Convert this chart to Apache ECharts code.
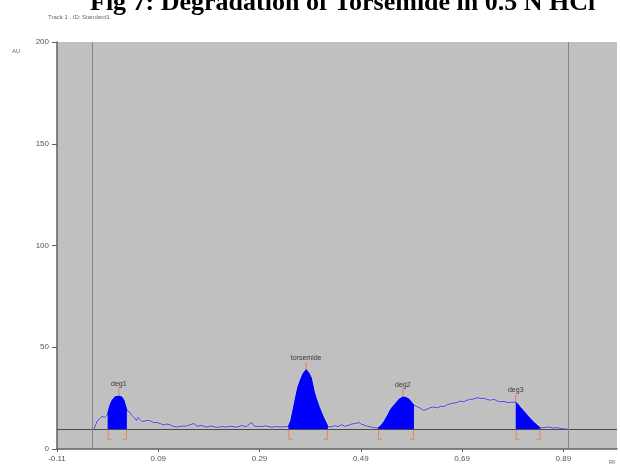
<!DOCTYPE html>
<html>
<head>
<meta charset="utf-8">
<script src="https://cdn.jsdelivr.net/npm/echarts@6/dist/echarts.min.js"></script>
<style>
  html, body { margin: 0; padding: 0; background: #fff; }
  #chart { width: 620px; height: 468px; }
</style>
</head>
<body>
<div id="chart"></div>
<script>
// densitogram trace (Rf, AU)
var rfValues = [-0.037,-0.031,-0.026,-0.021,-0.016,-0.010,-0.006,-0.002,0.004,0.012,0.018,0.022,0.028,
  0.034,0.038,0.042,0.047,0.050,0.053,0.058,0.061,0.067,0.073,0.080,0.087,0.094,0.101,0.106,0.112,0.119,
  0.126,0.135,0.146,0.153,0.160,0.167,0.175,0.185,0.195,0.205,0.215,0.225,0.234,0.244,0.254,0.264,0.274,
  0.280,0.294,0.303,0.313,0.323,0.333,0.342,0.347,0.352,0.357,0.362,0.366,0.371,0.376,0.382,0.387,0.392,
  0.398,0.403,0.408,0.412,0.416,0.421,0.425,0.431,0.438,0.445,0.452,0.458,0.465,0.472,0.479,0.486,0.491,
  0.496,0.503,0.510,0.517,0.524,0.530,0.536,0.543,0.549,0.554,0.559,0.566,0.573,0.579,0.585,0.590,0.595,
  0.603,0.608,0.614,0.620,0.627,0.634,0.641,0.648,0.654,0.661,0.667,0.673,0.680,0.687,0.693,0.700,0.707,
  0.713,0.720,0.727,0.733,0.740,0.746,0.753,0.760,0.766,0.773,0.780,0.788,0.796,0.800,0.805,0.812,0.819,
  0.826,0.833,0.840,0.845,0.852,0.861,0.870,0.878,0.886,0.894,0.904];
var auValues = [9.8,13.5,15,16,15.5,17,21,23.5,25.5,26,25.5,24,19,
  18,16.5,15.5,14,15.5,15,13.5,13,14,14,13,13,12.5,11.8,12.3,12,11.2,
  10.8,11.2,11.3,12,12.5,11.2,11.6,10.8,11.3,10.6,11,10.8,11.2,10.7,11.5,11,13,
  11.2,11,11.4,10.7,11,10.8,11,11,14,20,26,30.5,34,37,39,37.5,35,
  28,24,20.5,18,15.7,13,11,10.8,11.5,11,12,11.2,11.6,12.3,12.5,13,12.2,
  11.8,11.2,10.8,10.5,10.3,11.5,13.5,16.5,19.5,21,22.5,24.5,25.5,25.3,24.5,23,21.5,
  20.6,20,19,19.5,20.3,20.6,20.2,21,20.8,21.8,22.2,22.6,22.8,23.6,23.2,24,24.4,
  24.6,25.2,24.8,25,24.3,24,24.4,23.5,23.2,23.4,22.8,23,23,22,20.5,18.5,16.5,
  14.5,12.8,11.3,10.3,10.6,10.8,10.3,10.5,10,9.8,9.6];

var peakNames = ['deg1', 'torsemide', 'deg2', 'deg3'];
var peakStart = [-0.010, 0.347, 0.524, 0.796];
var peakEnd = [0.028, 0.425, 0.595, 0.845];
var peakApex = [0.012, 0.382, 0.573, 0.796];
var peakApexAu = [26, 39, 25.5, 23];

var baselineAu = 9.5;
var laneLines = [-0.037, 0.9];
var rfMin = -0.11, rfMax = 0.996;
var auMax = 200, auStep = 50, rfStep = 0.2;

// x axis is shifted so that its min is 0 and the 0.2 steps start at -0.11
function sx(rf) { return +(rf - rfMin).toFixed(4); }

var trace = rfValues.map(function (r, i) { return [sx(r), auValues[i]]; });

var fillSeries = peakNames.map(function (name, k) {
  var pts = [];
  rfValues.forEach(function (r, i) {
    if (r >= peakStart[k] - 1e-6 && r <= peakEnd[k] + 1e-6) pts.push([sx(r), auValues[i]]);
  });
  return {
    name: name, type: 'line', data: pts, symbol: 'none', z: 4,
    lineStyle: { color: '#0000ff', width: 1 },
    areaStyle: { color: '#0000ff', opacity: 1, origin: baselineAu },
    silent: true
  };
});

var orange = '#ee7744';
var startPath = 'path://M0,0 L1,0 L1,9 L4,9 L4,10 L0,10 Z';
var endPath = 'path://M3,0 L4,0 L4,10 L0,10 L0,9 L3,9 Z';

var myChart = echarts.init(document.getElementById('chart'));

var option = {
  animation: false,
  backgroundColor: '#ffffff',
  grid: {
    left: 57, right: 3, top: 42, bottom: 19,
    show: true, backgroundColor: '#c0c0c0', borderWidth: 0
  },
  graphic: [
    {
      type: 'text', left: 90, top: -10,
      style: {
        text: 'Fig 7: Degradation of Torsemide in 0.5 N HCl',
        font: 'bold 26px "Liberation Serif", "DejaVu Serif", serif',
        fill: '#000'
      }
    },
    {
      type: 'text', left: 48, top: 14,
      style: { text: 'Track 1 , ID: Standard1', font: '6px "Liberation Sans", sans-serif', fill: '#666' }
    },
    {
      type: 'text', left: 12, top: 48,
      style: { text: 'AU', font: '6px "Liberation Sans", sans-serif', fill: '#666' }
    },
    {
      type: 'text', left: 609, top: 459,
      style: { text: 'Rf', font: '6px "Liberation Sans", sans-serif', fill: '#666' }
    }
  ],
  xAxis: {
    type: 'value', min: 0, max: sx(rfMax), interval: rfStep,
    axisLine: { show: true, lineStyle: { color: '#606060', width: 1.5 } },
    axisTick: { show: true, length: 3, lineStyle: { color: '#606060' } },
    axisLabel: {
      color: '#555', fontSize: 8, margin: 6, showMaxLabel: false,
      formatter: function (v) { return (v + rfMin).toFixed(2); }
    },
    splitLine: { show: false }
  },
  yAxis: {
    type: 'value', min: 0, max: auMax, interval: auStep,
    axisLine: { show: true, lineStyle: { color: '#606060', width: 1.5 } },
    axisTick: { show: true, length: 5, lineStyle: { color: '#606060' } },
    axisLabel: { color: '#555', fontSize: 8, margin: 8 },
    splitLine: { show: false }
  },
  series: [
    {
      name: 'trace', type: 'line', data: trace, symbol: 'none', z: 3,
      lineStyle: { color: '#4646d6', width: 1, shadowColor: 'rgba(225,225,255,0.9)', shadowBlur: 2 },
      markLine: {
        silent: true, symbol: 'none', label: { show: false }, animation: false,
        data: [
          { yAxis: baselineAu, lineStyle: { color: '#4a4a4a', width: 1, type: 'solid' } }
        ].concat(laneLines.map(function (r) {
          return { xAxis: sx(r), lineStyle: { color: '#858585', width: 1, type: 'solid' } };
        }))
      }
    }
  ].concat(fillSeries).concat([
    {
      name: 'apex', type: 'scatter', z: 6, silent: true,
      data: peakApex.map(function (r, k) { return { value: [sx(r), peakApexAu[k]], name: peakNames[k] }; }),
      symbol: 'rect', symbolSize: [1.2, 7], symbolOffset: [0, -4],
      itemStyle: { color: orange },
      label: {
        show: true, position: 'top', distance: 1, color: '#111', fontSize: 7,
        formatter: function (p) { return p.name; }
      }
    },
    {
      name: 'start', type: 'scatter', z: 6, silent: true,
      data: peakStart.map(function (r) { return [sx(r), baselineAu]; }),
      symbol: startPath, symbolSize: [4, 10], symbolOffset: [2, 5], symbolKeepAspect: false,
      itemStyle: { color: orange }
    },
    {
      name: 'end', type: 'scatter', z: 6, silent: true,
      data: peakEnd.map(function (r) { return [sx(r), baselineAu]; }),
      symbol: endPath, symbolSize: [4, 10], symbolOffset: [-2, 5], symbolKeepAspect: false,
      itemStyle: { color: orange }
    }
  ])
};

myChart.setOption(option);
</script>
</body>
</html>
